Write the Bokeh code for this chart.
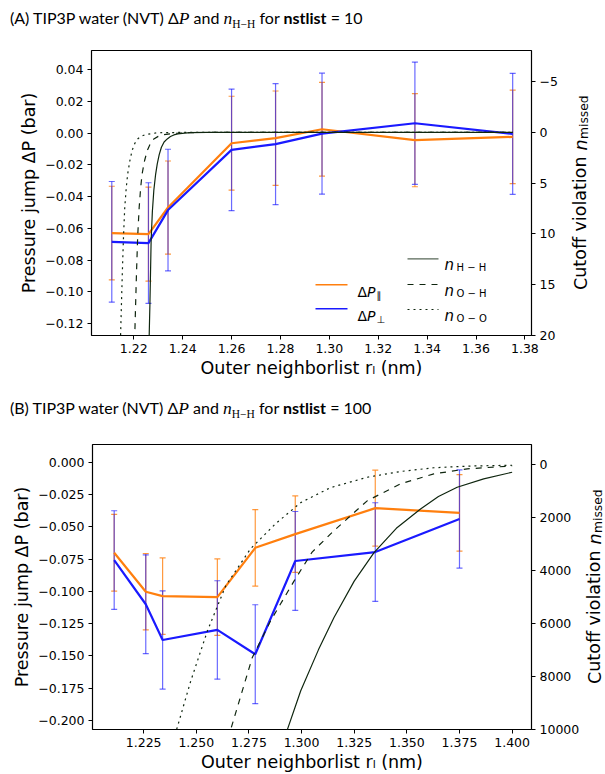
from bokeh.plotting import figure
from bokeh.models import (Range1d, LinearAxis, FixedTicker, CustomJSTickFormatter,
                          Whisker, TeeHead, ColumnDataSource, Label, Arrow, Div)
from bokeh.layouts import column, row
from bokeh.embed import file_html
from bokeh.resources import INLINE

# ---------------- data ----------------
r_points = [1.211, 1.226, 1.234, 1.260, 1.278, 1.297, 1.335, 1.375]

# Panel A (nstlist = 10)
dp_par_a = [-0.0629, -0.0635, -0.0468, -0.0063, -0.0031, 0.0025, -0.0044, -0.0023]
dp_par_err_a = [0.0295, 0.0296, 0.0293, 0.0296, 0.0297, 0.0295, 0.0293, 0.0294]
dp_perp_a = [-0.0684, -0.0692, -0.0484, -0.0105, -0.0069, -0.0003, 0.0063, -0.0004]
dp_perp_err_a = [0.0380, 0.0380, 0.0383, 0.0383, 0.0381, 0.0381, 0.0385, 0.0381]

r_hh_a = [1.2255, 1.2263, 1.2266, 1.2271, 1.2276, 1.2282, 1.2289, 1.2296, 1.2304, 1.2313,
          1.2324, 1.2337, 1.2350, 1.2364, 1.2380, 1.2398, 1.2430, 1.2500, 1.3000, 1.3750]
n_hh_a = [30, 20.0, 16.9, 10.6, 7.8, 5.7, 4.2, 3.1, 2.2, 1.47,
          0.95, 0.65, 0.42, 0.26, 0.16, 0.10, 0.04, 0.01, 0, 0]
r_oh_a = [1.2196, 1.2204, 1.2211, 1.2216, 1.2222, 1.2228, 1.2234, 1.2244, 1.2255, 1.2268,
          1.2282, 1.2300, 1.2323, 1.2364, 1.2450, 1.3000, 1.3750]
n_oh_a = [30, 20, 13.9, 10.2, 7.4, 5.5, 4.1, 2.8, 1.8, 1.1,
          0.65, 0.40, 0.23, 0.10, 0.02, 0, 0]
r_oo_a = [1.2138, 1.2146, 1.2153, 1.2158, 1.2163, 1.2169, 1.2175, 1.2184, 1.2193, 1.2204,
          1.2216, 1.2230, 1.2248, 1.2296, 1.2400, 1.3000, 1.3750]
n_oo_a = [30, 20, 13.9, 10.2, 7.4, 5.5, 4.1, 2.8, 1.8, 1.1,
          0.65, 0.40, 0.23, 0.05, 0.01, 0, 0]

# Panel B (nstlist = 100)
dp_par_b = [-0.0701, -0.1003, -0.1037, -0.1045, -0.0663, -0.0557, -0.0356, -0.0392]
dp_par_err_b = [0.0297, 0.0296, 0.0296, 0.0296, 0.0296, 0.0296, 0.0294, 0.0296]
dp_perp_b = [-0.0758, -0.1100, -0.1377, -0.1299, -0.1487, -0.0765, -0.0696, -0.0440]
dp_perp_err_b = [0.0382, 0.0383, 0.0380, 0.0381, 0.0383, 0.0383, 0.0382, 0.0380]

r_hh_b = [1.2880, 1.2932, 1.2996, 1.3080, 1.3154, 1.3250, 1.3344, 1.3450, 1.3565, 1.3650,
          1.3739, 1.3865, 1.4000]
n_hh_b = [12000, 10027, 8549, 7000, 5773, 4400, 3322, 2400, 1667, 1200, 849, 530, 280]
r_oh_b = [1.2580, 1.2663, 1.2766, 1.2853, 1.2964, 1.3050, 1.3154, 1.3313, 1.3470, 1.3628,
          1.3787, 1.4000]
n_oh_b = [13500, 10027, 7288, 5898, 4400, 3300, 2489, 1352, 720, 341, 152, 40]
r_oo_b = [1.2300, 1.2406, 1.2474, 1.2553, 1.2640, 1.2758, 1.2877, 1.2996, 1.3138, 1.3312,
          1.3471, 1.3628, 1.3800, 1.4000]
n_oo_b = [14000, 10027, 8171, 6277, 4572, 3171, 2224, 1428, 860, 470, 250, 110, 45, 15]

# ticks
ticks_x_a = [1.22, 1.24, 1.26, 1.28, 1.30, 1.32, 1.34, 1.36, 1.38]
ticks_y_a = [-0.12, -0.10, -0.08, -0.06, -0.04, -0.02, 0.00, 0.02, 0.04]
ticks_n_a = [-5, 0, 5, 10, 15, 20]
ticks_x_b = [1.225, 1.250, 1.275, 1.300, 1.325, 1.350, 1.375, 1.400]
ticks_y_b = [-0.200, -0.175, -0.150, -0.125, -0.100, -0.075, -0.050, -0.025, 0.000]
ticks_n_b = [0, 2000, 4000, 6000, 8000, 10000]

# ---------------- style ----------------
ORANGE = "#ff7f0e"
BLUE = "#1a1aff"
DARK = "#0f260f"
FONT = "DejaVu Sans"
TICK_FS = "12.5px"
LABEL_FS = "17.5px"
W = 605


def fmt(decimals):
    return CustomJSTickFormatter(
        code=f"return tick.toFixed({decimals}).replace('-', '\\u2212');")


def style_axis(ax, ticks, decimals):
    ax.ticker = FixedTicker(ticks=ticks)
    ax.formatter = fmt(decimals)
    ax.major_label_text_font = FONT
    ax.major_label_text_font_size = TICK_FS
    ax.major_label_text_color = "black"
    ax.major_tick_out = 4
    ax.major_tick_in = 0
    ax.minor_tick_out = 0
    ax.minor_tick_in = 0
    ax.major_tick_line_color = "black"
    ax.axis_line_color = None
    ax.major_label_standoff = 4
    ax.axis_label_text_font = FONT
    ax.axis_label_text_font_size = LABEL_FS
    ax.axis_label_text_font_style = "normal"
    ax.axis_label_text_color = "black"


def make_panel(width, height, frame, xr, yr, nr, dp_par, dp_par_err, dp_perp, dp_perp_err,
               curves, tx, ty, tn, dx, dy):
    fl, ft, fr, fb = frame            # frame edges in figure pixels
    p = figure(width=width, height=height, x_range=Range1d(*xr), y_range=Range1d(*yr),
               output_backend="svg", toolbar_location=None, frame_align=False,
               min_border_left=fl, min_border_right=width - fr,
               min_border_top=ft, min_border_bottom=height - fb)
    p.grid.visible = False
    p.outline_line_color = "black"
    p.outline_line_width = 1.2
    p.background_fill_color = "white"
    p.border_fill_color = "white"
    p.extra_y_ranges = {"n": Range1d(*nr)}
    right = LinearAxis(y_range_name="n")
    p.add_layout(right, "right")

    style_axis(p.xaxis[0], tx, dx)
    style_axis(p.yaxis[0], ty, dy)
    style_axis(right, tn, 0)
    p.yaxis[0].axis_label = "Pressure jump \u0394P (bar)"
    p.yaxis[0].axis_label_standoff = 3
    p.xaxis[0].axis_label = "Outer neighborlist r\u2097 (nm)"
    p.xaxis[0].axis_label_standoff = 2

    # error bars
    par_src = ColumnDataSource(dict(x=r_points, y=dp_par,
                                    up=[v + e for v, e in zip(dp_par, dp_par_err)],
                                    lo=[v - e for v, e in zip(dp_par, dp_par_err)]))
    perp_src = ColumnDataSource(dict(x=r_points, y=dp_perp,
                                     up=[v + e for v, e in zip(dp_perp, dp_perp_err)],
                                     lo=[v - e for v, e in zip(dp_perp, dp_perp_err)]))
    for src, col, alpha in ((par_src, ORANGE, 0.8), (perp_src, BLUE, 0.65)):
        p.add_layout(Whisker(source=src, base="x", upper="up", lower="lo", dimension="height",
                             line_color=col, line_alpha=alpha, line_width=1.2,
                             upper_head=TeeHead(size=6, line_color=col, line_alpha=alpha, line_width=1.2),
                             lower_head=TeeHead(size=6, line_color=col, line_alpha=alpha, line_width=1.2)))
    p.line("x", "y", source=par_src, line_color=ORANGE, line_width=2.2)
    p.line("x", "y", source=perp_src, line_color=BLUE, line_width=2.2)

    # n curves (right axis)
    for (rr, nn, dash) in curves:
        p.line(rr, nn, y_range_name="n", line_color=DARK, line_width=1.2, line_dash=dash)
    return p


def make_label_fig(width, height, base_x, frame_top, frame_bottom):
    """Narrow strip holding the rotated right-axis label 'Cutoff violation n_missed'."""
    q = figure(width=width, height=height, output_backend="svg", toolbar_location=None,
               x_range=Range1d(0, 1), y_range=Range1d(0, 1), frame_align=False,
               x_axis_location=None, y_axis_location=None,
               min_border_left=0, min_border_right=0, min_border_top=0, min_border_bottom=0)
    q.grid.visible = False
    q.outline_line_color = None
    q.background_fill_color = "white"
    q.border_fill_color = "white"
    center_from_bottom = height - (frame_top + frame_bottom) / 2
    y0 = center_from_bottom - 97
    common = dict(x_units="screen", y_units="screen", angle=1.5708, text_align="left",
                  text_baseline="alphabetic", text_color="black", text_font=FONT)
    q.add_layout(Label(x=base_x, y=y0, text="Cutoff violation ", text_font_size=LABEL_FS, **common))
    q.add_layout(Label(x=base_x, y=y0 + 139.5, text="n", text_font_style="italic",
                       text_font_size=LABEL_FS, **common))
    q.add_layout(Label(x=base_x + 3.5, y=y0 + 151, text="missed", text_font_size="12.3px", **common))
    return q


pA = make_panel(562, 352, (91, 12, 531, 297), (1.2027, 1.3827), (-0.1274, 0.0521), (20, -8.05),
                dp_par_a, dp_par_err_a, dp_perp_a, dp_perp_err_a,
                [(r_hh_a, n_hh_a, "solid"), (r_oh_a, n_oh_a, "dashed"), (r_oo_a, n_oo_a, "dotted")],
                ticks_x_a, ticks_y_a, ticks_n_a, 2, 2)
labA = make_label_fig(W - 562, 352, 580 - 562, 12, 297)

pB = make_panel(582, 346, (92, 16, 531, 301), (1.2007, 1.4092), (-0.2070, 0.0137), (10013, -770),
                dp_par_b, dp_par_err_b, dp_perp_b, dp_perp_err_b,
                [(r_hh_b, n_hh_b, "solid"), (r_oh_b, n_oh_b, "dashed"), (r_oo_b, n_oo_b, "dotted")],
                ticks_x_b, ticks_y_b, ticks_n_b, 3, 3)
labB = make_label_fig(W - 582, 346, 12, 16, 301)

# ---------------- legend for panel A (manual, frame-relative pixels) ----------------
LEG_FS = "14px"
SUB_FS = "10px"
for (yl, col, sub) in ((50.7, ORANGE, "\u2225"), (26.7, BLUE, "\u22a5")):
    pA.add_layout(Arrow(x_start=224, y_start=yl, x_end=256, y_end=yl, start_units="screen",
                        end_units="screen", end=None, line_color=col, line_width=1.6))
    pA.add_layout(Label(x=266, y=yl - 7.4, x_units="screen", y_units="screen", text="\u0394",
                        text_font=FONT, text_font_size=LEG_FS, text_baseline="alphabetic",
                        text_color="black"))
    pA.add_layout(Label(x=275.6, y=yl - 7.4, x_units="screen", y_units="screen", text="P",
                        text_font=FONT, text_font_style="italic", text_font_size=LEG_FS,
                        text_baseline="alphabetic", text_color="black"))
    pA.add_layout(Label(x=285, y=yl - 10.5, x_units="screen", y_units="screen", text=sub,
                        text_font=FONT, text_font_size=SUB_FS, text_baseline="alphabetic",
                        text_color="black"))

for (yl, dash, sub, alpha) in ((76.7, "solid", "H \u2212 H", 0.7), (51, "dashed", "O \u2212 H", 1.0),
                               (26, "dotted", "O \u2212 O", 1.0)):
    pA.add_layout(Arrow(x_start=316, y_start=yl, x_end=347, y_end=yl, start_units="screen",
                        end_units="screen", end=None, line_color=DARK, line_alpha=alpha,
                        line_width=1.2, line_dash=dash))
    pA.add_layout(Label(x=353, y=yl - 6, x_units="screen", y_units="screen", text="n",
                        text_font=FONT, text_font_style="italic", text_font_size="15px",
                        text_baseline="alphabetic", text_color="black"))
    pA.add_layout(Label(x=365, y=yl - 8.5, x_units="screen", y_units="screen", text=sub,
                        text_font=FONT, text_font_size=SUB_FS, text_baseline="alphabetic",
                        text_color="black"))

# ---------------- titles ----------------
SERIF = "'Liberation Serif'"


def title_html(letter, nst):
    return (f'<div style="font-family: Lato; font-size: 16px; white-space: nowrap; '
            f'line-height: 20px; padding-left: 10px; padding-top: 8px; color: black;">'
            f'({letter}) TIP3P water (NVT) \u0394<i style="font-family: {SERIF}; font-size: 17.5px;">P</i>'
            f' and <i style="font-family: {SERIF}; font-size: 17.5px;">n</i>'
            f'<sub style="font-family: {SERIF}; font-size: 11.5px;">H\u2212H</sub>'
            f' for <b>nstlist</b> = {nst}</div>')


divA = Div(text=title_html("A", 10), width=W, height=38, margin=0)
divB = Div(text=title_html("B", 100), width=W, height=38, margin=0)

layout = column(divA, row(pA, labA, spacing=0), divB, row(pB, labB, spacing=0), spacing=0)
open("out.html", "w").write(file_html(layout, INLINE))
